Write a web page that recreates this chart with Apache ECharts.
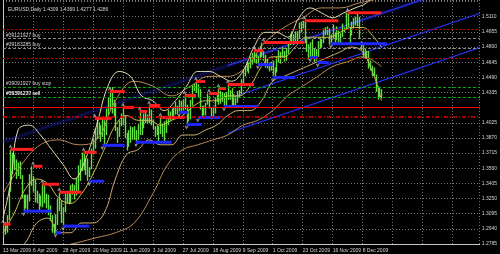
<!DOCTYPE html>
<html><head><meta charset="utf-8">
<script src="https://cdn.jsdelivr.net/npm/echarts@6/dist/echarts.min.js"></script>
<style>html,body{margin:0;padding:0;background:#000;}#c{width:500px;height:254px;}</style>
</head><body><div id="c"></div>
<script>
// ---------- data ----------
const symbolName = 'EURUSD', timeframe = 'Daily';
const lastOpen = 1.4309, lastClose = 1.4286;
const dateLabels = ['13 Mar 2009','6 Apr 2009','28 Apr 2009','20 May 2009','11 Jun 2009','3 Jul 2009','27 Jul 2009','18 Aug 2009','9 Sep 2009','1 Oct 2009','23 Oct 2009','16 Nov 2009','8 Dec 2009'];
const barsPerLabel = 16;
const tickBase = 1.2785, tickStep = 0.0155;
const highs = [1.2990,1.3010,1.3080,1.3350,1.3750,1.3720,1.3700,1.3650,1.3620,1.3630,1.3490,1.3290,1.3290,1.3290,1.3500,1.3580,
1.3480,1.3440,1.3330,1.3300,1.3280,1.3400,1.3380,1.3300,1.3290,1.3180,1.3080,1.2990,1.3090,1.3250,1.3310,1.3230,
1.3160,1.3300,1.3330,1.3310,1.3390,1.3400,1.3390,1.3460,1.3590,1.3650,1.3720,1.3710,1.3660,1.3660,1.3570,1.3760,
1.3860,1.3970,1.4065,1.4030,1.4000,1.4070,1.4050,1.4170,1.4280,1.4340,1.4390,1.4260,1.4230,1.3980,1.4050,1.4120,
1.4180,1.4100,1.3920,1.3950,1.3990,1.3980,1.3990,1.3950,1.4010,1.4140,1.4060,1.4120,1.4130,1.4110,1.4200,1.4160,
1.4060,1.3990,1.4000,1.3990,1.4080,1.4010,1.4040,1.4060,1.4160,1.4140,1.4170,1.4190,1.4240,1.4200,1.4260,1.4250,
1.4260,1.4305,1.4210,1.4160,1.4260,1.4410,1.4420,1.4447,1.4420,1.4370,1.4200,1.4200,1.4230,1.4325,1.4300,1.4180,
1.4190,1.4280,1.4340,1.4375,1.4350,1.4340,1.4330,1.4340,1.4416,1.4360,1.4380,1.4320,1.4300,1.4350,1.4360,1.4470,
1.4560,1.4610,1.4650,1.4640,1.4700,1.4740,1.4763,1.4740,1.4710,1.4810,1.4845,1.4760,1.4720,1.4680,1.4640,1.4650,
1.4660,1.4590,1.4700,1.4770,1.4750,1.4800,1.4760,1.4790,1.4860,1.4930,1.4960,1.4930,1.4960,1.4960,1.5050,1.5060,
1.5069,1.5060,1.4900,1.4830,1.4850,1.4880,1.4780,1.4780,1.4860,1.4900,1.4880,1.4990,1.5000,1.5010,1.4990,1.4930,
1.5030,1.4950,1.5010,1.4970,1.4940,1.5040,1.5000,1.5150,1.5145,1.5000,1.5060,1.5100,1.5110,1.5150,1.5110,1.4860,
1.4820,1.4790,1.4760,1.4760,1.4660,1.4610,1.4590,1.4520,1.4400,1.4380,1.4369];
const lows = [1.2860,1.2880,1.2900,1.3030,1.3320,1.3500,1.3540,1.3450,1.3480,1.3450,1.3250,1.3120,1.3150,1.3130,1.3220,1.3380,
1.3320,1.3210,1.3200,1.3130,1.3170,1.3160,1.3200,1.3150,1.3080,1.3020,1.2900,1.2890,1.2890,1.2980,1.3120,1.3000,
1.2965,1.3110,1.3200,1.3190,1.3200,1.3290,1.3240,1.3280,1.3320,1.3430,1.3530,1.3540,1.3490,1.3430,1.3470,1.3550,
1.3700,1.3760,1.3860,1.3900,1.3830,1.3880,1.3800,1.3900,1.4100,1.4160,1.4120,1.4080,1.3940,1.3820,1.3880,1.3990,
1.4000,1.3870,1.3740,1.3780,1.3820,1.3850,1.3850,1.3825,1.3850,1.3900,1.3900,1.3970,1.4020,1.4020,1.4020,1.4000,
1.3960,1.3880,1.3900,1.3830,1.3910,1.3880,1.3835,1.3920,1.4000,1.4040,1.4060,1.4090,1.4110,1.4110,1.4130,1.4140,
1.4150,1.4160,1.4010,1.4040,1.4060,1.4200,1.4350,1.4330,1.4290,1.4160,1.4080,1.4100,1.4100,1.4210,1.4170,1.4060,
1.4070,1.4120,1.4240,1.4210,1.4220,1.4240,1.4195,1.4200,1.4260,1.4260,1.4200,1.4190,1.4200,1.4230,1.4280,1.4320,
1.4410,1.4500,1.4550,1.4530,1.4580,1.4620,1.4640,1.4630,1.4620,1.4670,1.4700,1.4660,1.4590,1.4580,1.4550,1.4560,
1.4510,1.4488,1.4540,1.4640,1.4630,1.4690,1.4650,1.4660,1.4730,1.4820,1.4850,1.4820,1.4830,1.4850,1.4890,1.4950,
1.4990,1.4840,1.4750,1.4670,1.4692,1.4700,1.4641,1.4660,1.4700,1.4780,1.4800,1.4840,1.4920,1.4920,1.4824,1.4830,
1.4880,1.4830,1.4870,1.4830,1.4830,1.4900,1.4950,1.4980,1.5000,1.4840,1.4920,1.4990,1.5020,1.5010,1.4880,1.4770,
1.4690,1.4680,1.4680,1.4580,1.4560,1.4500,1.4500,1.4340,1.4260,1.4280,1.4277];
// fractal resistance (red) and support (blue) levels: [fromBar, toBar, price]
const resistSegs = [[0,4,1.2988],[4,16,1.3753],[16,21,1.3580],[21,30,1.3396],[30,42,1.3314],[43,50,1.3723],[49,58,1.4070],
[57,65,1.4345],[64,70,1.4182],[73,77,1.4141],[78,84,1.4202],[84,97,1.4080],[97,103,1.4304],[103,108,1.4447],[110,115,1.4324],
[115,119,1.4375],[120,134,1.4416],[134,139,1.4763],[139,161,1.4845],[161,179,1.5069],[184,202,1.5151]];
const supportSegs = [[11,26,1.3121],[28,31,1.2900],[32,46,1.2968],[46,54,1.3427],[53,65,1.3794],[71,90,1.3825],[94,99,1.4131],
[98,106,1.4008],[104,116,1.4080],[118,136,1.4192],[136,144,1.4620],[144,156,1.4488],[164,168,1.4692],[168,174,1.4641],[175,205,1.4834]];
// regression channel: [fromBar, price, toBar, price]
const channelGlow = [[0,1.3830,254.5,1.5484]];
const channelLines = [[120,1.4610,254.5,1.5484],[120,1.4270,254.5,1.5144],[120,1.3920,254.5,1.4794]];
// envelope / band lines: [bar, price]
const bandUpper = [[0,1.305],[4,1.34],[8,1.395],[14,1.40],[20,1.39],[26,1.375],[32,1.36],[38,1.345],[44,1.365],[50,1.40],[56,1.44],[62,1.455],[68,1.45],[74,1.43],[80,1.425],[86,1.415],[92,1.425],[98,1.44],[104,1.455],[110,1.455],[116,1.45],[122,1.445],[128,1.455],[134,1.48],[140,1.495],[146,1.495],[152,1.49],[158,1.51],[164,1.52],[170,1.515],[176,1.51],[182,1.515],[188,1.52],[194,1.525],[198,1.535],[202,1.545]];
const bandMid = [[0,1.29],[6,1.31],[12,1.335],[18,1.345],[24,1.34],[30,1.325],[36,1.32],[42,1.33],[48,1.35],[54,1.375],[60,1.40],[66,1.41],[72,1.405],[78,1.405],[84,1.40],[90,1.405],[96,1.41],[102,1.42],[108,1.425],[114,1.425],[120,1.43],[126,1.43],[132,1.44],[138,1.46],[144,1.47],[150,1.47],[156,1.48],[162,1.49],[168,1.49],[174,1.49],[180,1.495],[186,1.50],[192,1.50],[198,1.49],[202,1.48]];
const bandLower = [[0,1.275],[6,1.27],[12,1.28],[18,1.30],[24,1.305],[30,1.29],[36,1.29],[42,1.30],[48,1.30],[54,1.31],[60,1.345],[66,1.37],[72,1.375],[78,1.385],[84,1.38],[90,1.38],[96,1.39],[102,1.39],[108,1.395],[114,1.40],[120,1.41],[126,1.415],[132,1.415],[138,1.425],[144,1.445],[150,1.45],[156,1.455],[162,1.46],[168,1.465],[174,1.47],[180,1.475],[186,1.48],[192,1.475],[196,1.46],[200,1.44],[202,1.425]];
const slowUpper = [[0,1.33],[10,1.36],[20,1.38],[30,1.385],[40,1.38],[50,1.385],[60,1.425],[70,1.445],[80,1.44],[90,1.43],[100,1.44],[110,1.45],[120,1.45],[130,1.46],[140,1.485],[150,1.50],[160,1.51],[170,1.52],[180,1.52],[190,1.525],[202,1.53]];
const slowLower = [[0,1.26],[10,1.25],[20,1.265],[30,1.275],[40,1.28],[50,1.285],[60,1.29],[70,1.30],[80,1.33],[88,1.36],[96,1.375],[104,1.38],[112,1.385],[120,1.39],[128,1.40],[136,1.405],[144,1.415],[152,1.43],[160,1.44],[168,1.45],[176,1.46],[184,1.465],[192,1.47],[202,1.46]];
// horizontal order / level lines
const orderLevels = [1.4974,1.4841,1.4749,1.4657,1.4412,1.4325,1.4284,1.4197,1.4064];
const orderTexts  = ['','#39121927 buy','#39183285 buy','','#39091927 buy stop','#39391270 sell','#39396237 sell','',''];
const redBoxLevel = 1.4197;

// ---------- build ----------
const Y = p => +(p - tickBase).toFixed(6);
const lastBar = highs.length - 1;
const titleText = symbolName + ',' + timeframe + ' ' + lastOpen.toFixed(4) + ' ' + highs[lastBar].toFixed(4) + ' ' + lows[lastBar].toFixed(4) + ' ' + lastClose.toFixed(4);
const FONT = 'Liberation Sans';
const TXT = '#d4d4d4';
const barData = highs.map((h, i) => [i, Y(lows[i]), Y(h)]);
const segData = a => a.map(s => [s[0], s[1], Y(s[2])]);
const chData = a => a.map(s => [s[0], Y(s[1]), s[2], Y(s[3])]);
const lineData = a => a.map(p => [p[0], Y(p[1])]);

const orderStyles = [
  {color:'#c00000', type:[2,2]},
  {color:'#8c8c8c', type:[3,2]},
  {color:'#8c8c8c', type:[3,2]},
  {color:'#c00000', type:[2,2]},
  {color:'#00b000', type:[3,2]},
  {color:'#8c8c8c', type:[3,2]},
  {color:'#00b000', type:[3,2]},
  {color:'#ff0000', type:'solid'},
  {color:'#e00000', type:[4,2,1,2], width:1.5}
];
const markData = orderLevels.map((lv, k) => ({
  yAxis: Y(lv),
  lineStyle: {color: orderStyles[k].color, type: orderStyles[k].type, width: orderStyles[k].width || 1},
  label: {show: !!orderTexts[k], formatter: orderTexts[k], position: 'insideStartTop', distance: [3, 1], color: TXT, fontSize: 5, fontFamily: FONT}
}));
markData.push({yAxis: Y(redBoxLevel), lineStyle: {opacity: 0}, label: {show: true, position: 'end', distance: 1, formatter: redBoxLevel.toFixed(4), backgroundColor: '#ff0000', color: '#fff', fontSize: 5, fontFamily: FONT, padding: [1,1,0,1]}});
markData.push({yAxis: Y(lastClose), lineStyle: {opacity: 0}, label: {show: true, position: 'end', distance: 1, formatter: lastClose.toFixed(4), backgroundColor: '#ffffff', color: '#000', fontSize: 5, fontFamily: FONT, padding: [1,1,0,1]}});

function segSeries(data, color) {
  return {
    type: 'custom', data: segData(data), encode: {x: [0,1], y: 2}, clip: true, silent: true, z: 4,
    renderItem: (params, api) => {
      const a = api.coord([api.value(0), api.value(2)]);
      const b = api.coord([api.value(1), api.value(2)]);
      return {type: 'line', shape: {x1: a[0], y1: a[1], x2: b[0], y2: b[1]}, style: {stroke: color, lineWidth: 3}};
    }
  };
}
function arrowSeries(data, up) {
  return {
    type: 'scatter', data: data.map(s => [s[0], Y(s[2])]), symbol: 'arrow', symbolSize: [3,4],
    symbolRotate: up ? 0 : 180, symbolOffset: [0, up ? -5 : 5], itemStyle: {color: '#b8b8b8'}, silent: true, z: 5
  };
}
function bandSeries(data, color) {
  return {type: 'line', data: lineData(data), smooth: 0.4, showSymbol: false, symbol: 'none', silent: true, z: 3,
    lineStyle: {color: color, width: 1}};
}
function channelSeries(data, color, width, blur) {
  return {
    type: 'custom', data: chData(data), encode: {x: [0,2], y: [1,3]}, clip: true, silent: true, z: 2,
    renderItem: (params, api) => {
      const a = api.coord([api.value(0), api.value(1)]);
      const b = api.coord([api.value(2), api.value(3)]);
      return {type: 'line', shape: {x1: a[0], y1: a[1], x2: b[0], y2: b[1]},
        style: {stroke: color, lineWidth: width, shadowBlur: blur, shadowColor: 'rgba(30,40,200,0.6)'}};
    }
  };
}

const chart = echarts.init(document.getElementById('c'), null, {renderer: 'canvas'});
chart.setOption({
  backgroundColor: '#000000',
  animation: false,
  title: {text: titleText, left: 3, top: 2, textStyle: {color: TXT, fontSize: 5, fontWeight: 'normal', fontFamily: FONT}},
  grid: {left: 0, right: 19, top: 0, bottom: 10},
  xAxis: {
    type: 'value', min: 0, max: 254.5, interval: barsPerLabel, offset: 3,
    axisLine: {show: true, lineStyle: {color: '#c8c8c8', width: 1}},
    axisTick: {show: false},
    axisLabel: {color: TXT, fontSize: 5, fontFamily: FONT, align: 'left', margin: 1, showMaxLabel: false,
      formatter: v => dateLabels[Math.round(v / barsPerLabel)] || ''},
    splitLine: {show: true, lineStyle: {color: '#777777', type: [1,2], width: 1}}
  },
  yAxis: {
    type: 'value', position: 'right', min: 0, max: 0.2496, interval: tickStep, scale: false,
    axisLine: {show: true, lineStyle: {color: '#c8c8c8', width: 1}},
    axisTick: {show: false},
    axisLabel: {color: TXT, fontSize: 5, fontFamily: FONT, margin: 2, showMaxLabel: false,
      formatter: v => { const k = Math.round(v / tickStep); if (k >= 16 || k === 9) return ''; return (tickBase + k * tickStep).toFixed(4); }},
    splitLine: {show: true, lineStyle: {color: '#777777', type: [1,2], width: 1}}
  },
  series: [
    channelSeries(channelGlow, 'rgba(25,35,150,0.35)', 3, 4),
    channelSeries(channelLines, '#2a35ff', 1, 1),
    bandSeries(slowUpper, '#b88a58'),
    bandSeries(slowLower, '#b88a58'),
    bandSeries(bandUpper, '#e2dcb0'),
    bandSeries(bandMid, '#c8c048'),
    bandSeries(bandLower, '#ccb070'),
    {
      type: 'custom', data: barData, encode: {x: 0, y: [1,2]}, clip: true, silent: true, z: 3,
      renderItem: (params, api) => {
        const i = api.value(0);
        const lo = api.coord([i, api.value(1)]);
        const hi = api.coord([i, api.value(2)]);
        return {type: 'line', shape: {x1: Math.round(lo[0]) + 0.5, y1: lo[1], x2: Math.round(hi[0]) + 0.5, y2: hi[1]},
          style: {stroke: '#62e040', lineWidth: 1.4}};
      },
      markLine: {symbol: ['none','none'], silent: true, animation: false, data: markData}
    },
    segSeries(resistSegs, '#ff1e1e'),
    segSeries(supportSegs, '#1e28ff'),
    arrowSeries(resistSegs, true),
    arrowSeries(supportSegs, false)
  ]
});
</script>
</body></html>
